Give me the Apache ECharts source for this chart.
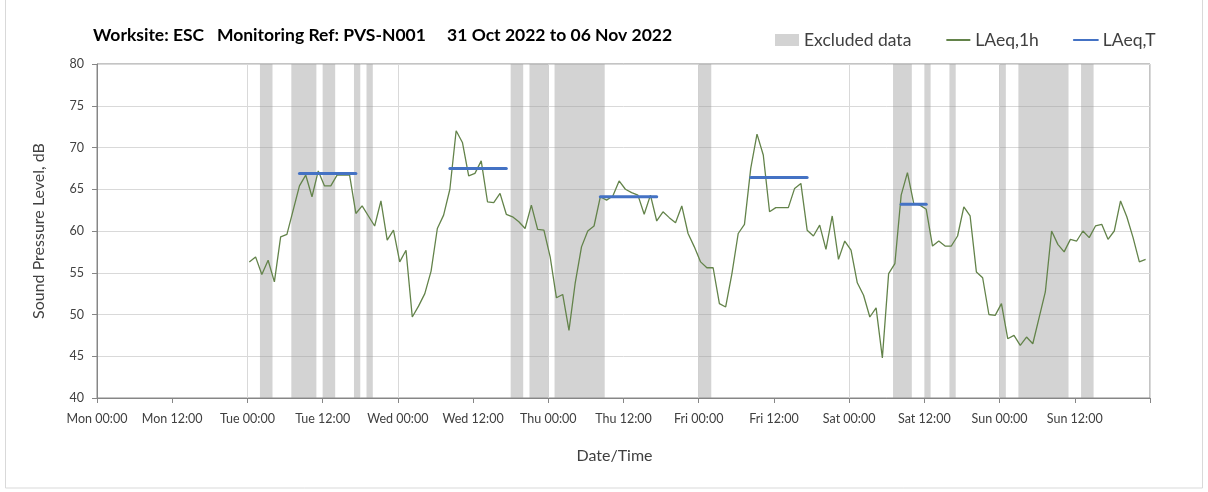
<!DOCTYPE html>
<html>
<head>
<meta charset="utf-8">
<script src="https://cdn.jsdelivr.net/npm/echarts/dist/echarts.min.js"></script>
<style>
html,body{margin:0;padding:0;background:#fff;}
#chart{width:1208px;height:492px;}
</style>
</head>
<body>
<div id="chart"></div>
<script>
// ---- data ----
const dayNames = ['Mon', 'Tue', 'Wed', 'Thu', 'Fri', 'Sat', 'Sun'];
const tickTimes = ['00:00', '12:00'];
const firstReadingHour = 24;          // hours after Mon 00:00 (Tue 00:00)
const readingOffsetHours = 0.3;       // readings appear slightly after the hour mark
// LAeq,1h values, one per hour from Tue 00:00 to Sun 23:00
const laeq1h = [
  56.3, 56.9, 54.8, 56.5, 53.9, 59.3, 59.6, 62.5, 65.4, 66.7, 64.1, 67.2,
  65.4, 65.4, 66.7, 66.7, 66.7, 62.1, 63.0, 61.8, 60.6, 63.6, 58.9, 60.1,
  56.3, 57.7, 49.7, 51.0, 52.5, 55.2, 60.3, 61.9, 65.0, 72.0, 70.6, 66.6,
  66.9, 68.4, 63.5, 63.4, 64.5, 62.0, 61.7, 61.1, 60.3, 63.1, 60.2, 60.1,
  56.9, 52.0, 52.4, 48.1, 53.8, 58.1, 60.0, 60.6, 64.1, 63.7, 64.2, 66.0,
  65.0, 64.6, 64.3, 62.0, 64.3, 61.2, 62.3, 61.6, 61.0, 63.0, 59.7, 58.1,
  56.3, 55.6, 55.6, 51.3, 50.9, 54.9, 59.7, 60.8, 67.5, 71.6, 69.1, 62.3,
  62.8, 62.8, 62.8, 65.1, 65.7, 60.1, 59.4, 60.7, 57.8, 61.8, 56.6, 58.8,
  57.7, 53.8, 52.3, 49.7, 50.8, 44.8, 54.9, 56.1, 64.3, 67.0, 63.3, 63.1,
  62.6, 58.2, 58.8, 58.2, 58.2, 59.4, 62.9, 61.8, 55.1, 54.4, 50.0, 49.9,
  51.3, 47.1, 47.5, 46.3, 47.3, 46.5, 49.6, 52.7, 60.0, 58.4, 57.5, 59.0,
  58.8, 60.0, 59.2, 60.6, 60.8, 59.0, 60.0, 63.6, 61.7, 59.2, 56.3, 56.6
];
// excluded data periods [start hour, end hour] after Mon 00:00
const excludedPeriods = [
  [26, 28], [31, 35], [36, 38], [41, 42], [43, 44],
  [66, 68], [69, 72], [73, 81], [96, 98],
  [127, 130], [132, 133], [136, 137], [144, 145], [147, 155], [157, 159]
];
// LAeq,T assessment periods
const periodStartHour = [32, 56, 80, 104, 128];
const periodEndHour = [41, 65, 89, 113, 132];
const laeqT = [66.9, 67.5, 64.1, 66.4, 63.2];

// ---- chart ----
const FONT = 'Lato, "Open Sans", sans-serif';
const chart = echarts.init(document.getElementById('chart'), null, { renderer: 'canvas' });

const series = [
  {
    name: 'Excluded data',
    type: 'line',
    data: [],
    symbol: 'none',
    itemStyle: { color: 'rgba(150,150,150,0.42)' },
    lineStyle: { width: 0 },
    markArea: {
      silent: true,
      itemStyle: { color: 'rgba(150,150,150,0.42)' },
      label: { show: false },
      data: excludedPeriods.map(p => [{ xAxis: p[0] }, { xAxis: p[1] }])
    }
  },
  {
    name: 'LAeq,1h',
    type: 'line',
    symbol: 'none',
    z: 3,
    itemStyle: { color: '#63834a' },
    lineStyle: { color: '#63834a', width: 1.3 },
    data: laeq1h.map((v, i) => [firstReadingHour + i + readingOffsetHours, v])
  }
];
laeqT.forEach((v, k) => {
  series.push({
    name: 'LAeq,T',
    type: 'line',
    symbol: 'none',
    z: 4,
    itemStyle: { color: '#4472c4' },
    lineStyle: { color: '#4472c4', width: 3, cap: 'round' },
    data: [
      [periodStartHour[k] + readingOffsetHours, v],
      [periodEndHour[k] + readingOffsetHours, v]
    ]
  });
});

chart.setOption({
  animation: false,
  backgroundColor: '#fff',
  textStyle: { fontFamily: FONT },
  title: {
    text: 'Worksite: ESC   Monitoring Ref: PVS-N001     31 Oct 2022 to 06 Nov 2022',
    left: 88,
    top: 21,
    textStyle: { fontFamily: FONT, fontSize: 17.5, fontWeight: 'bold', color: '#000' }
  },
  legend: {
    left: 770,
    top: 26,
    itemGap: 34,
    itemWidth: 24,
    itemHeight: 12,
    textStyle: { fontFamily: FONT, fontSize: 17.5, color: '#404040' },
    data: [
      { name: 'Excluded data', icon: 'rect' },
      { name: 'LAeq,1h', itemStyle: { opacity: 0 } },
      { name: 'LAeq,T', itemStyle: { opacity: 0 } }
    ]
  },
  grid: {
    left: 97, right: 58, top: 64, bottom: 94,
    show: true, borderColor: '#898989', borderWidth: 1, backgroundColor: 'transparent'
  },
  xAxis: [
    {
      type: 'value',
      min: 0, max: 168, interval: 12,
      name: 'Date/Time',
      nameLocation: 'middle',
      nameGap: 50,
      nameTextStyle: { fontFamily: FONT, fontSize: 16, color: '#404040', padding: [0, 18, 0, 0] },
      axisLine: { show: true, lineStyle: { color: '#868686', width: 1 } },
      axisTick: { show: true, length: 5, lineStyle: { color: '#868686' } },
      axisLabel: {
        color: '#404040', fontSize: 12.5, fontFamily: FONT, margin: 14,
        formatter: v => v >= 168 ? '' : dayNames[Math.floor(v / 24)] + ' ' + tickTimes[(v % 24) / 12]
      },
      splitLine: { show: false }
    },
    {
      type: 'value',
      min: 0, max: 168, interval: 24,
      position: 'bottom',
      axisLine: { show: false },
      axisTick: { show: false },
      axisLabel: { show: false },
      splitLine: { show: true, lineStyle: { color: '#d9d9d9', width: 1 } }
    }
  ],
  yAxis: {
    type: 'value',
    min: 40, max: 80, interval: 5,
    name: 'Sound Pressure Level, dB',
    nameLocation: 'middle',
    nameGap: 50,
    nameTextStyle: { fontFamily: FONT, fontSize: 16, color: '#404040' },
    axisLine: { show: true, lineStyle: { color: '#868686', width: 1 } },
    axisTick: { show: true, length: 5, lineStyle: { color: '#868686' } },
    axisLabel: { color: '#404040', fontSize: 12.5, fontFamily: FONT, margin: 13 },
    splitLine: { show: true, lineStyle: { color: '#d9d9d9', width: 1 } }
  },
  graphic: [
    {
      type: 'rect',
      silent: true,
      shape: { x: 5.5, y: -5, width: 1197, height: 493 },
      style: { fill: 'none', stroke: '#d9d9d9', lineWidth: 1 },
      z: -10
    }
  ],
  series: series
});
</script>
</body>
</html>
